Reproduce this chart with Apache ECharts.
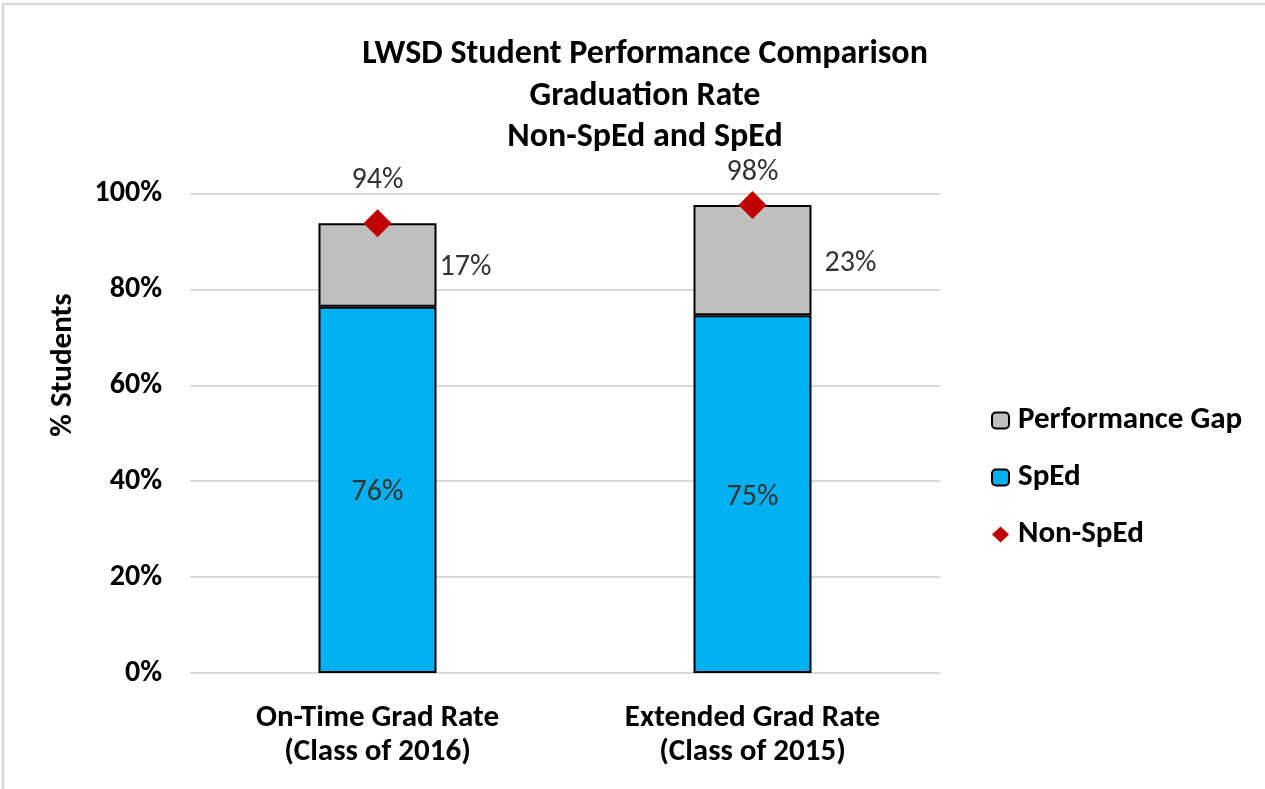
<!DOCTYPE html>
<html>
<head>
<meta charset="utf-8">
<script src="https://cdn.jsdelivr.net/npm/echarts@6/dist/echarts.min.js"></script>
<style>
html,body{margin:0;padding:0;background:#fff;}
#chart{width:1265px;height:789px;}
</style>
</head>
<body>
<div id="chart"></div>
<script>
const categories = ['On-Time Grad Rate\n(Class of 2016)', 'Extended Grad Rate\n(Class of 2015)'];
const spEd = [76.4, 74.6];
const performanceGap = [17.4, 23.0];
const nonSpEd = [93.8, 97.6];
const yTicks = [0, 20, 40, 60, 80, 100];

const FONT = "Carlito, 'Open Sans', sans-serif";
const pct = v => Math.round(v) + '%';

const chart = echarts.init(document.getElementById('chart'));
const gapLabelDist = [3, 13];
const topLabelDist = [14, 4];

chart.setOption({
  animation: false,
  backgroundColor: '#fff',
  title: {
    text: 'LWSD Student Performance Comparison\nGraduation Rate\nNon-SpEd and SpEd',
    left: 640, top: 29, textAlign: 'center',
    textStyle: { fontFamily: FONT, fontSize: 34, fontWeight: 'bold', color: '#000', lineHeight: 41.5 }
  },
  graphic: [
    { type: 'rect', shape: { x: 3, y: 4, width: 1400, height: 900 }, style: { fill: 'none', stroke: '#d9d9d9', lineWidth: 2.5 }, silent: true },
    { type: 'text', x: 63, y: 365, rotation: Math.PI / 2,
      style: { text: '% Students', fontFamily: FONT, fontSize: 31, fontWeight: 'bold', fill: '#000', align: 'center', verticalAlign: 'middle' } }
  ],
  legend: {
    orient: 'vertical', left: 986, top: 400,
    data: ['Performance Gap', 'SpEd', 'Non-SpEd'],
    itemWidth: 17, itemHeight: 16, itemGap: 26,
    textStyle: { fontFamily: FONT, fontSize: 31, fontWeight: 'bold', color: '#000', padding: [0, 0, 0, 4] }
  },
  grid: { left: 190, right: 325, top: 193.5, bottom: 116, containLabel: false },
  xAxis: {
    type: 'category', data: categories,
    axisLine: { show: false }, axisTick: { show: false },
    axisLabel: { fontFamily: FONT, fontSize: 31, fontWeight: 'bold', color: '#000', lineHeight: 34, margin: 28 }
  },
  yAxis: {
    type: 'value', min: yTicks[0], max: yTicks[yTicks.length - 1], interval: 20,
    axisLine: { show: false }, axisTick: { show: false },
    splitLine: { lineStyle: { color: '#d9d9d9', width: 2 } },
    axisLabel: { fontFamily: FONT, fontSize: 30, fontWeight: 'bold', color: '#000', margin: 28, formatter: v => v + '%' }
  },
  series: [
    {
      name: 'SpEd', type: 'bar', stack: 'grad', barWidth: 118,
      data: spEd,
      itemStyle: { color: '#00B0F0', borderColor: '#000', borderWidth: 2 },
      label: { show: true, position: 'inside', offset: [0, 3], fontFamily: FONT, fontSize: 30, color: '#333', formatter: p => pct(p.value) }
    },
    {
      name: 'Performance Gap', type: 'bar', stack: 'grad', barWidth: 118,
      data: performanceGap.map((v, i) => ({ value: v, label: { distance: gapLabelDist[i] } })),
      itemStyle: { color: '#BFBFBF', borderColor: '#000', borderWidth: 2 },
      label: { show: true, position: 'right', offset: [0, 3], fontFamily: FONT, fontSize: 30, color: '#333', formatter: p => pct(p.value) }
    },
    {
      name: 'Non-SpEd', type: 'scatter', symbol: 'diamond', symbolSize: 28,
      data: nonSpEd.map((v, i) => ({ value: v, label: { distance: topLabelDist[i] } })),
      itemStyle: { color: '#C00000', opacity: 1 },
      z: 5,
      label: { show: true, position: 'top', fontFamily: FONT, fontSize: 30, color: '#333', formatter: p => pct(p.value) }
    }
  ]
});
</script>
</body>
</html>
